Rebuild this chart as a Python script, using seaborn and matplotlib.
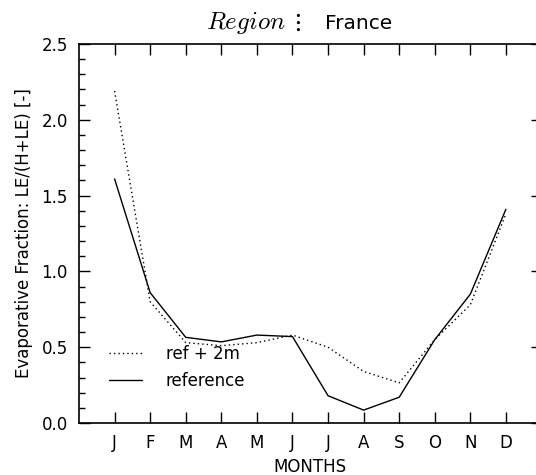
import matplotlib
matplotlib.use("Agg")
import matplotlib.pyplot as plt
import seaborn as sns
import pandas as pd
from matplotlib.ticker import MultipleLocator, FormatStrFormatter

months = ["J", "F", "M", "A", "M", "J", "J", "A", "S", "O", "N", "D"]
month_pos = list(range(1, 13))
reference = [1.61, 0.86, 0.565, 0.535, 0.58, 0.57, 0.18, 0.085, 0.17, 0.55, 0.85, 1.41]
ref_2m = [2.19, 0.80, 0.53, 0.51, 0.53, 0.58, 0.50, 0.34, 0.265, 0.55, 0.78, 1.38]

sns.set_style("ticks")
plt.rcParams["font.family"] = ["DejaVu Sans"]
plt.rcParams["mathtext.fontset"] = "cm"
plt.rcParams["text.color"] = "black"
plt.rcParams["axes.labelcolor"] = "black"
plt.rcParams["xtick.color"] = "black"
plt.rcParams["ytick.color"] = "black"

fig = plt.figure(figsize=(5.36, 4.75), dpi=100)
ax = fig.add_axes([79 / 536, 52 / 475, 462.5 / 536, 379 / 475])

df = pd.DataFrame({"month": month_pos, "ref": ref_2m, "refe": reference})
sns.lineplot(data=df, x="month", y="ref", ax=ax, color="black", lw=1.0,
             linestyle=(0, (1, 2.2)), label="ref + 2m")
sns.lineplot(data=df, x="month", y="refe", ax=ax, color="black", lw=1.0,
             label="reference")

ax.set_xlim(0, 13)
ax.set_ylim(0, 2.5)
ax.set_xticks(month_pos)
ax.set_xticklabels(months)
ax.yaxis.set_major_locator(MultipleLocator(0.5))
ax.yaxis.set_minor_locator(MultipleLocator(0.1))
ax.yaxis.set_major_formatter(FormatStrFormatter("%.1f"))
ax.tick_params(axis="both", which="major", direction="in", length=8, width=1,
               labelsize=12, top=True, right=True, pad=8, color="black",
               labelcolor="black")
ax.tick_params(axis="y", which="minor", direction="in", length=4, width=1,
               left=True, right=False, color="black")
ax.tick_params(axis="x", which="minor", bottom=False, top=False)
for s in ax.spines.values():
    s.set_linewidth(1.2)
    s.set_color("black")

ax.set_xlabel("MONTHS", fontsize=12, labelpad=4)
ax.set_ylabel("Evaporative Fraction: LE/(H+LE) [-]", fontsize=12, labelpad=6)

fig.text(302 / 536, 1 - 29 / 475, r"$Region\ \vdots$", fontsize=18,
         ha="right", va="baseline")
fig.text(325 / 536, 1 - 29 / 475, "France", fontsize=14.5,
         ha="left", va="baseline")

leg = ax.legend(frameon=False, loc="upper left", bbox_to_anchor=(0.033, 0.245),
                fontsize=12, handlelength=1.95, handletextpad=1.45,
                labelspacing=0.55)

fig.savefig("out.png", dpi=100)
